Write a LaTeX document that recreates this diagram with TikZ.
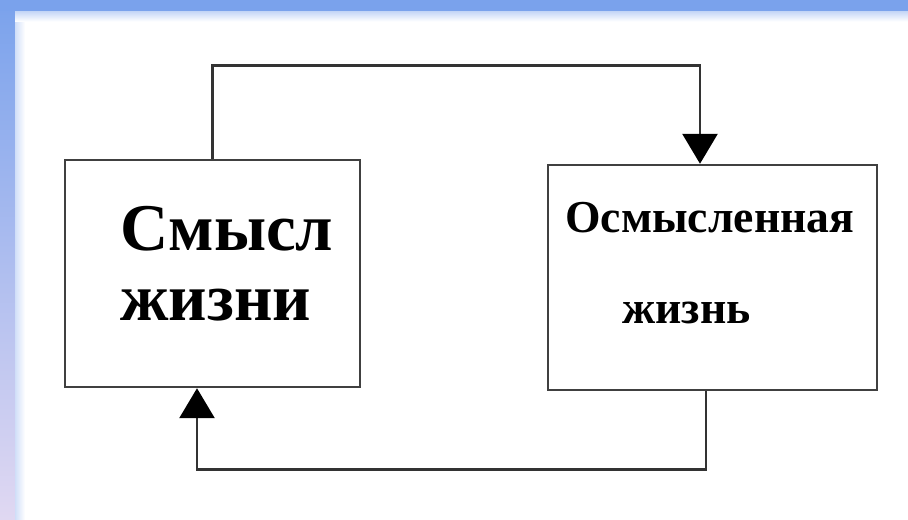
\documentclass[tikz,border=0pt]{standalone}
\usepackage{fontspec}
\setmainfont{Liberation Serif}
\usepackage{xcolor}
\usepackage{tikz}
\usetikzlibrary{positioning,calc,arrows.meta}

\definecolor{frameblue}{RGB}{122,162,236}
\definecolor{framelav}{RGB}{224,216,242}

\begin{document}
\begin{tikzpicture}[
    box/.style={draw=black!75, line width=1.4pt, minimum width=#1, minimum height=4.5cm, inner sep=0pt},
    link/.style={draw=black!80, line width=1.6pt},
    tip/.style={-{Triangle[width=0.7cm,length=0.6cm,color=black,fill=black]}},
    bigword/.style={font=\bfseries\fontsize{38}{40}\selectfont, inner sep=0pt, anchor=base west},
    smallword/.style={font=\bfseries\fontsize{26}{28}\selectfont, inner sep=0pt, anchor=base west}
]
    % Background and frame
    \useasboundingbox (0,0) rectangle (18.16,10.38);
    \fill[white] (0,0) rectangle (18.16,10.38);
    \shade[top color=frameblue, bottom color=framelav] (0,0) rectangle (0.3,10.38);
    \shade[left color=frameblue!35, right color=white] (0.3,0) rectangle (0.5,10.16);
    \fill[frameblue] (0,10.16) rectangle (18.16,10.38);
    \shade[top color=frameblue!45, bottom color=white] (0.3,9.95) rectangle (18.16,10.16);

    % Boxes
    \node[box=5.9cm, minimum height=4.54cm] (sense) at (4.25,4.91) {};
    \node[box=6.58cm] (meaning) at (14.25,4.83) {};

    % Labels
    \node[bigword] (senseA) at (2.4,5.38) {Смысл};
    \node[bigword] (senseB) at (2.4,3.98) {жизни};
    \node[smallword] (meaningA) at (11.3,5.74) {Осмысленная};
    \node[smallword] (meaningB) at (12.44,3.92) {жизнь};

    % Connectors
    \draw[link, tip] (sense.north) -- ++(0,1.86) -| ([xshift=-0.25cm]meaning.north);
    \draw[link, tip] ([xshift=-0.13cm]meaning.south) -- ++(0,-1.56) -| ([xshift=-0.31cm]sense.south);
\end{tikzpicture}
\end{document}
